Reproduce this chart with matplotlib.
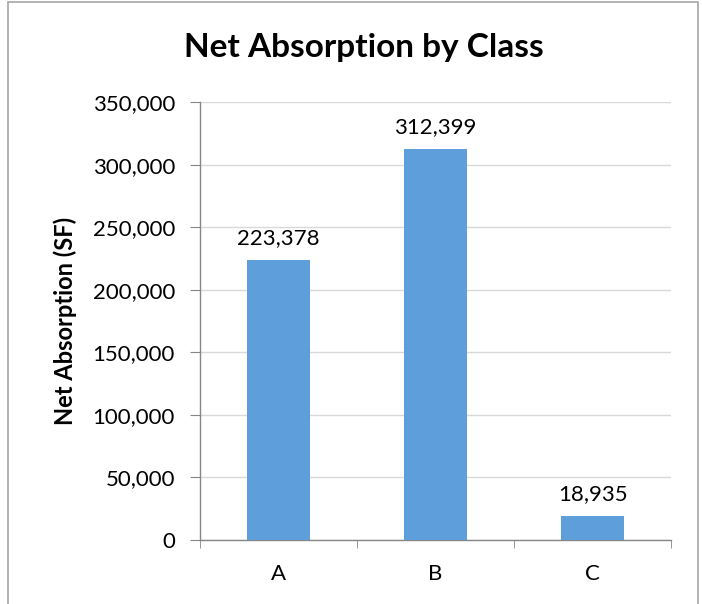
import matplotlib.pyplot as plt
from matplotlib.patches import Rectangle
from matplotlib.ticker import FuncFormatter, FixedLocator

# data
classes = ["A", "B", "C"]
absorption = [223378, 312399, 18935]
y_ticks = [0, 50000, 100000, 150000, 200000, 250000, 300000, 350000]

bar_color = "#5E9FDB"
axis_gray = "#868686"
grid_gray = "#D9D9D9"

plt.rcParams["font.family"] = ["Lato", "DejaVu Sans"]

fig = plt.figure(figsize=(7.02, 6.04), dpi=100)
ax = fig.add_axes([0.285, 0.106, 0.671, 0.725])

x = range(len(classes))
bars = ax.bar(x, absorption, width=0.4, color=bar_color, zorder=3)

# value labels above each bar
for b, v in zip(bars, absorption):
    ax.annotate(f"{v:,}", (b.get_x() + b.get_width() / 2, v),
                xytext=(0, 9), textcoords="offset points",
                ha="center", va="bottom", fontsize=16)

ax.set_xlim(-0.5, len(classes) - 0.5)
ax.set_ylim(0, 350000)
ax.set_yticks(y_ticks)
ax.yaxis.set_major_formatter(FuncFormatter(lambda v, p: f"{int(v):,}"))
ax.set_xticks(list(x))
ax.set_xticklabels(classes)
ax.xaxis.set_minor_locator(FixedLocator([i - 0.5 for i in range(len(classes) + 1)]))

ax.tick_params(axis="x", which="major", length=0, pad=17, labelsize=16)
ax.tick_params(axis="x", which="minor", length=6, color=axis_gray, direction="out")
ax.tick_params(axis="y", length=7, color=axis_gray, pad=11, labelsize=16)

ax.grid(axis="y", color=grid_gray, linewidth=1, zorder=0)
for side in ["top", "right"]:
    ax.spines[side].set_visible(False)
for side in ["left", "bottom"]:
    ax.spines[side].set_color(axis_gray)
    ax.spines[side].set_linewidth(1)

ax.set_ylabel("Net Absorption (SF)", fontsize=17, fontweight="bold")
ax.yaxis.label.set_va("center")
ax.yaxis.set_label_coords(-0.287, 0.5)

fig.text(0.519, 0.921, "Net Absorption by Class", ha="center", va="center",
         fontsize=24, fontweight="bold")

# chart frame
fig.patches.append(Rectangle((8 / 702, -0.05), 690 / 702, 1.046,
                             transform=fig.transFigure, fill=False,
                             edgecolor="#A6A6A6", linewidth=1.2))

fig.savefig("out.png", dpi=100)
